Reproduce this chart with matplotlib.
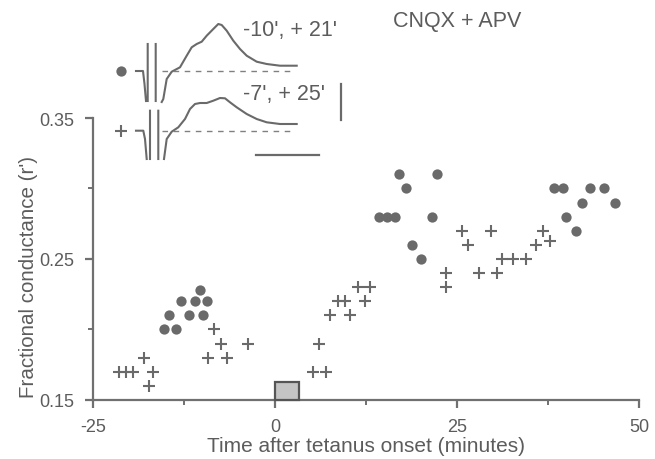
import numpy as np
import matplotlib
matplotlib.use('Agg')
import matplotlib.pyplot as plt
from matplotlib.patches import Rectangle

plt.rcParams['font.family'] = ['Liberation Sans', 'DejaVu Sans']

GRAY = '#6a6a6a'
TXT = '#5c5c5c'

# filled circles: "-10', + 21'" pathway
circ_x = [-15.3, -14.6, -13.6, -12.9, -11.9, -11.1, -10.4, -9.9, -9.4,
          14.2, 15.3, 16.5, 16.95, 17.9, 18.8, 20.0, 21.5, 22.2,
          38.3, 39.5, 40.0, 41.3, 42.2, 43.2, 45.2, 46.7]
circ_y = [0.200, 0.210, 0.200, 0.220, 0.210, 0.220, 0.228, 0.210, 0.220,
          0.280, 0.280, 0.280, 0.310, 0.300, 0.260, 0.250, 0.280, 0.310,
          0.300, 0.300, 0.280, 0.270, 0.290, 0.300, 0.300, 0.290]

# crosses: "-7', + 25'" pathway
cross_x = [-21.5, -20.5, -19.6, -18.1, -17.4, -16.8, -9.2, -8.4, -7.4, -6.7, -3.7,
           5.2, 6.0, 6.9, 7.55, 8.6, 9.6, 10.3, 11.4, 12.3, 13.05,
           23.5, 23.5, 25.6, 26.5, 28.0, 29.6, 30.5, 31.2, 32.7, 34.5,
           35.9, 36.8, 37.7]
cross_y = [0.170, 0.170, 0.170, 0.180, 0.160, 0.170, 0.180, 0.200, 0.190, 0.180, 0.190,
           0.170, 0.190, 0.170, 0.210, 0.220, 0.220, 0.210, 0.230, 0.220, 0.230,
           0.240, 0.230, 0.270, 0.260, 0.240, 0.270, 0.240, 0.250, 0.250, 0.250,
           0.260, 0.270, 0.263]

tetanus = (0, 3.3)  # minutes

# example field potentials (inset units, y downward)
nan = np.nan
tr1_x = [136, 143, 144.5, 146, nan, 147.7, 147.7, nan, 155.7, 155.7, nan,
         161.7, 163.3, 166.7, 171.7, 180, 186.7, 191.7, 196.7, 201.7, 206.7,
         213.3, 218.3, 221.7, 226.7, 233.3, 240, 246.7, 256.7, 266.7, 280, 296.7]
tr1_y = [72, 72, 85, 102, nan, 45, 102, nan, 45, 102, nan,
         103, 100, 80, 72.7, 68.3, 56.7, 48.3, 45, 42.7, 36.7,
         30, 25, 26, 31.7, 41.7, 50, 56.7, 62.7, 65, 66.7, 66.7]
tr2_x = [136, 143.3, 145, 146.7, nan, 150, 150, nan, 158.3, 158.3, nan,
         164, 166.7, 171.7, 178.3, 185, 190, 195, 200, 206.7, 213.3,
         220, 225, 230, 236.7, 246.7, 256.7, 266.7, 280, 296.7]
tr2_y = [131.7, 131.7, 140, 160, nan, 111.7, 160, nan, 111.7, 160, nan,
         160, 140, 132.7, 128.3, 120, 110, 105, 104, 104, 101.7,
         99, 99.3, 103.3, 108.3, 115, 120, 123.3, 125, 125]
base1 = 71.7
base2 = 131.7

fig = plt.figure(figsize=(6.55, 4.6), dpi=100)
ax = fig.add_axes([0.1427, 0.1283, 0.9756 - 0.1427, 0.7413 - 0.1283])

ax.plot(circ_x, circ_y, 'o', color=GRAY, ms=7.4, mec='none')
ax.plot(cross_x, cross_y, '+', color=GRAY, ms=9, mew=1.5)
ax.add_patch(Rectangle((tetanus[0], 0.15), tetanus[1] - tetanus[0], 0.0126,
                       facecolor='#c4c4c4', edgecolor='#555555', lw=1.6,
                       clip_on=False, zorder=3))

ax.set_xlim(-25, 50)
ax.set_ylim(0.15, 0.35)
ax.set_xticks([-25, 0, 25, 50])
ax.set_xticklabels(['-25', '0', '25', '50'])
ax.set_xticks([-12.5, 12.5, 37.5], minor=True)
ax.set_yticks([0.15, 0.25, 0.35])
ax.set_yticklabels(['0.15', '0.25', '0.35'])
ax.set_yticks([0.20, 0.30], minor=True)
for s in ['top', 'right']:
    ax.spines[s].set_visible(False)
for s in ['left', 'bottom']:
    ax.spines[s].set_color('#707070')
    ax.spines[s].set_linewidth(1.6)
ax.tick_params(which='major', length=6, width=1.6, color='#707070',
               labelsize=13, labelcolor=TXT, pad=7)
ax.tick_params(axis='y', which='major', pad=8)
ax.tick_params(which='minor', length=3.5, width=1.4, color='#707070')
ax.set_xlabel('Time after tetanus onset (minutes)', fontsize=15, color=TXT, labelpad=1)
ax.set_ylabel("Fractional conductance (r')", fontsize=14.8, color=TXT)
ax.yaxis.set_label_coords(-0.102, 0.44)

# inset with the sample traces
ins = fig.add_axes([110 / 655, 1 - 165 / 460, 250 / 655, 155 / 460])
ins.set_xlim(110, 360)
ins.set_ylim(165, 10)
ins.axis('off')
ins.patch.set_alpha(0)
ins.plot(tr1_x, tr1_y, color=GRAY, lw=1.5)
ins.plot(tr2_x, tr2_y, color=GRAY, lw=1.5)
ins.plot([161.7, 290], [base1, base1], color='#808080', lw=1, ls=(0, (4, 4)))
ins.plot([161.7, 290], [base2, base2], color='#808080', lw=1, ls=(0, (4, 4)))
ins.plot([120.7], [base1], 'o', color=GRAY, ms=7.4, mec='none')
ins.plot([120.7], [base2], '+', color=GRAY, ms=9, mew=1.5)
ins.plot([340.7, 340.7], [85, 120.7], color=GRAY, lw=1.6)
ins.plot([255.7, 319.3], [155.7, 155.7], color=GRAY, lw=1.6)
ins.text(243, 30, "-10', + 21'", fontsize=15.5, color=TXT, va='center')
ins.text(243, 94, "-7', + 25'", fontsize=15.5, color=TXT, va='center')

fig.text(393 / 655, 1 - 21.5 / 460, 'CNQX + APV', fontsize=15.5, color=TXT, va='center')

fig.savefig('out.png', dpi=100)
